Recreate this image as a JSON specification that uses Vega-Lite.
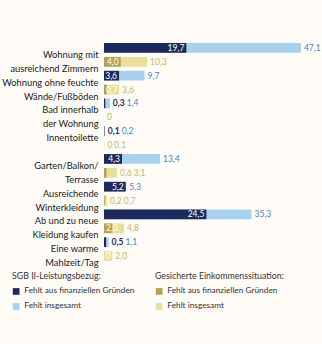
{
  "$schema": "https://vega.github.io/schema/vega-lite/v6.json",
  "width": 209,
  "height": 222,
  "autosize": {"type": "none"},
  "padding": {"left": 104, "top": 41, "right": 9, "bottom": 81},
  "background": "#fffcf7",
  "config": {
    "font": "Lato",
    "view": {"stroke": null},
    "legend": {
      "labelFont": "Lato",
      "titleFont": "Lato",
      "titleFontWeight": "normal",
      "titleFontSize": 8.8,
      "labelFontSize": 8.3,
      "titleColor": "#333",
      "labelColor": "#333",
      "symbolType": "square",
      "symbolSize": 45,
      "symbolStrokeWidth": 0,
      "rowPadding": 6,
      "titlePadding": 7
    }
  },
  "data": {
    "values": [
      {"cat": "Wohnung mit\nausreichend Zimmern", "group": "SGB", "fin": 19.7, "total": 47.1},
      {"cat": "Wohnung mit\nausreichend Zimmern", "group": "Einkommen", "fin": 4.0, "total": 10.3},
      {"cat": "Wohnung ohne feuchte\nWände/Fußböden", "group": "SGB", "fin": 3.6, "total": 9.7},
      {"cat": "Wohnung ohne feuchte\nWände/Fußböden", "group": "Einkommen", "fin": 0.7, "total": 3.6},
      {"cat": "Bad innerhalb\nder Wohnung", "group": "SGB", "fin": 0.3, "total": 1.4},
      {"cat": "Bad innerhalb\nder Wohnung", "group": "Einkommen", "fin": 0, "total": 0},
      {"cat": "Innentoilette", "group": "SGB", "fin": 0.1, "total": 0.2},
      {"cat": "Innentoilette", "group": "Einkommen", "fin": 0, "total": 0.1},
      {"cat": "Garten/Balkon/\nTerrasse", "group": "SGB", "fin": 4.3, "total": 13.4},
      {"cat": "Garten/Balkon/\nTerrasse", "group": "Einkommen", "fin": 0.6, "total": 3.1},
      {"cat": "Ausreichende\nWinterkleidung", "group": "SGB", "fin": 5.2, "total": 5.3},
      {"cat": "Ausreichende\nWinterkleidung", "group": "Einkommen", "fin": 0.2, "total": 0.7},
      {"cat": "Ab und zu neue\nKleidung kaufen", "group": "SGB", "fin": 24.5, "total": 35.3},
      {"cat": "Ab und zu neue\nKleidung kaufen", "group": "Einkommen", "fin": 2.0, "total": 4.8},
      {"cat": "Eine warme\nMahlzeit/Tag", "group": "SGB", "fin": 0.5, "total": 1.1},
      {"cat": "Eine warme\nMahlzeit/Tag", "group": "Einkommen", "fin": 0, "total": 2.0}
    ]
  },
  "transform": [
    {"calculate": "datum.fin == 0 ? '0' : replace(format(datum.fin, '.1f'), '.', ',')", "as": "finLabel"},
    {"calculate": "datum.total == 0 ? '0' : replace(format(datum.total, '.1f'), '.', ',')", "as": "totLabel"},
    {"calculate": "datum.fin >= 3 ? 'inR' : datum.group == 'SGB' ? 'out' : datum.total == 0 ? 'none' : (datum.total >= 2 && indexof(datum.cat, 'Garten') < 0) ? 'inL' : 'out'", "as": "mode"}
  ],
  "encoding": {
    "y": {
      "field": "cat",
      "type": "nominal",
      "sort": null,
      "title": null,
      "scale": {"paddingInner": 0, "paddingOuter": 0},
      "axis": {
        "domain": false,
        "ticks": false,
        "labelPadding": 6,
        "labelFont": "Lato",
        "labelFontSize": 9.3,
        "labelColor": "#1a1a1a",
        "labelLineHeight": 14,
        "labelLimit": 200,
        "labelExpr": "length(split(datum.label, '\\n')) == 1 ? [datum.label, ''] : split(datum.label, '\\n')"
      }
    },
    "yOffset": {
      "field": "group",
      "type": "nominal",
      "sort": ["SGB", "Einkommen"],
      "scale": {"paddingInner": 0.3, "paddingOuter": 0.15}
    }
  },
  "layer": [
    {
      "transform": [{"filter": "datum.group == 'SGB'"}],
      "layer": [
        {
          "mark": {"type": "bar"},
          "encoding": {
            "x": {"field": "total", "type": "quantitative", "scale": {"domain": [0, 50]}, "axis": null},
            "color": {
              "datum": "Fehlt insgesamt",
              "type": "nominal",
              "scale": {"domain": ["Fehlt aus finanziellen Gründen", "Fehlt insgesamt"], "range": ["#1d2a5b", "#a8d1ee"]},
              "legend": {"title": "SGB II-Leistungsbezug:", "orient": "none", "legendX": -92, "legendY": 230.5}
            }
          }
        },
        {
          "mark": {"type": "bar"},
          "encoding": {
            "x": {"field": "fin", "type": "quantitative"},
            "color": {"datum": "Fehlt aus finanziellen Gründen", "type": "nominal"}
          }
        }
      ]
    },
    {
      "transform": [{"filter": "datum.group == 'Einkommen'"}],
      "layer": [
        {
          "mark": {"type": "bar"},
          "encoding": {
            "x": {"field": "total", "type": "quantitative"},
            "color": {
              "datum": "Fehlt insgesamt",
              "type": "nominal",
              "scale": {"domain": ["Fehlt aus finanziellen Gründen", "Fehlt insgesamt"], "range": ["#b5a14a", "#e9df9c"]},
              "legend": {"title": "Gesicherte Einkommenssituation:", "orient": "none", "legendX": 51, "legendY": 230.5}
            }
          }
        },
        {
          "mark": {"type": "bar"},
          "encoding": {
            "x": {"field": "fin", "type": "quantitative"},
            "color": {"datum": "Fehlt aus finanziellen Gründen", "type": "nominal"}
          }
        }
      ]
    },
    {
      "mark": {
        "type": "text",
        "align": "left",
        "baseline": "middle",
        "fontSize": 8.5,
        "dx": {"expr": "3 + (datum.mode == 'out' ? length(datum.finLabel) * 3.6 + 3 : 0)"},
        "color": {"expr": "datum.group == 'SGB' ? '#3f87c0' : '#c6b464'"}
      },
      "encoding": {
        "x": {"field": "total", "type": "quantitative"},
        "text": {"field": "totLabel"}
      }
    },
    {
      "transform": [{"filter": "datum.mode == 'out'"}],
      "mark": {
        "type": "text",
        "align": "left",
        "baseline": "middle",
        "fontSize": 8.5,
        "dx": 3,
        "fontWeight": {"expr": "datum.group == 'SGB' ? 'bold' : 'normal'"},
        "color": {"expr": "datum.group == 'SGB' ? '#1d2a5b' : '#c6b464'"}
      },
      "encoding": {
        "x": {"field": "total", "type": "quantitative"},
        "text": {"field": "finLabel"}
      }
    },
    {
      "transform": [{"filter": "datum.mode == 'inR'"}],
      "mark": {"type": "text", "align": "right", "baseline": "middle", "fontSize": 8.5, "dx": -2, "color": "#ffffff"},
      "encoding": {
        "x": {"field": "fin", "type": "quantitative"},
        "text": {"field": "finLabel"}
      }
    },
    {
      "transform": [{"filter": "datum.mode == 'inL'"}],
      "mark": {"type": "text", "align": "left", "baseline": "middle", "fontSize": 8.5, "dx": 2, "color": "#ffffff"},
      "encoding": {
        "x": {"datum": 0, "type": "quantitative"},
        "text": {"field": "finLabel"}
      }
    }
  ],
  "resolve": {"scale": {"color": "independent"}}
}
